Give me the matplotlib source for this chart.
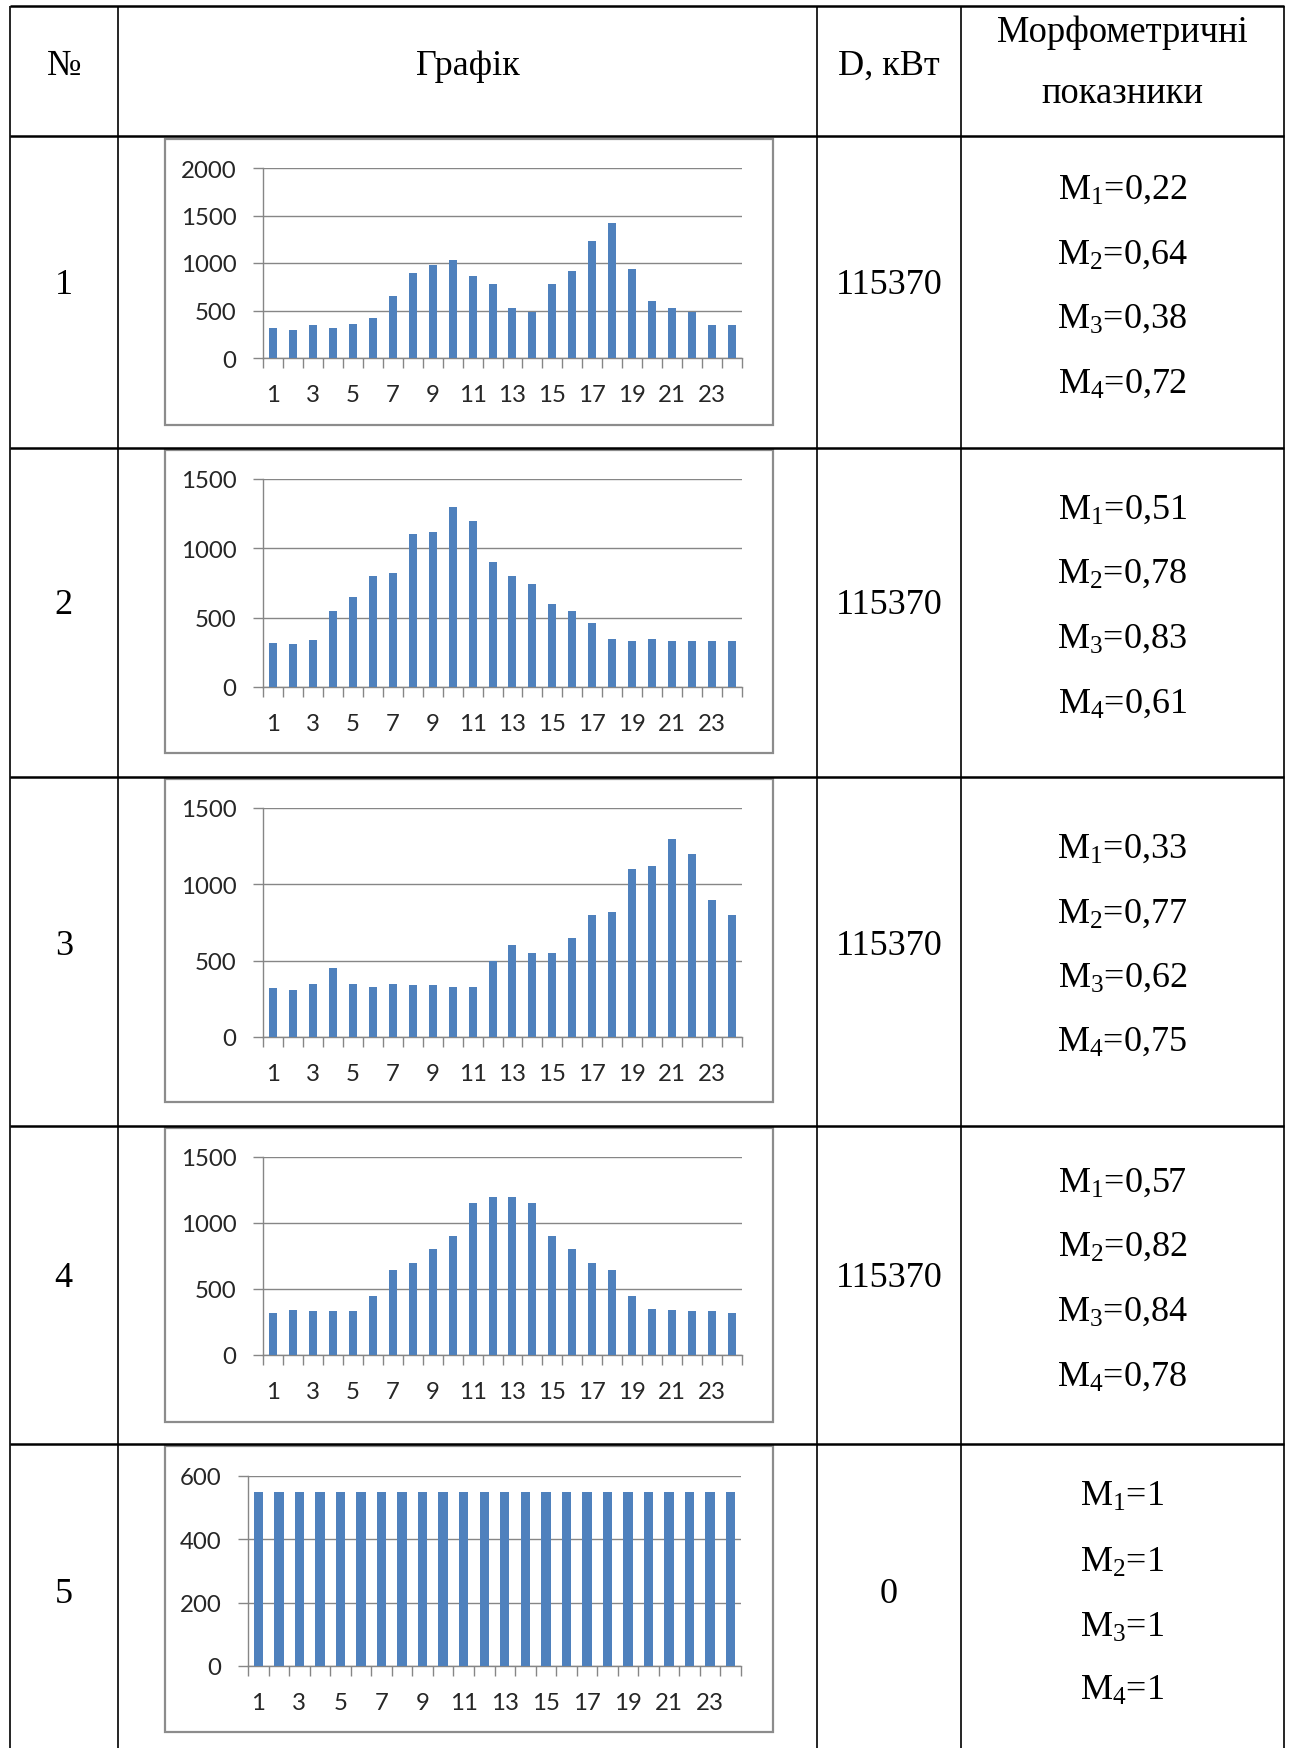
import numpy as np
import matplotlib.pyplot as plt
from matplotlib.patches import Rectangle

plt.rcParams['mathtext.fontset'] = 'custom'
plt.rcParams['mathtext.rm'] = 'Liberation Serif'
plt.rcParams['mathtext.it'] = 'Liberation Serif:italic'

W, H = 1291, 1749
SERIF = ['Liberation Serif', 'DejaVu Serif']

# data
hours = list(range(1, 25))
load_1 = [315, 300, 345, 315, 360, 420, 650, 900, 980, 1030, 860, 780,
          530, 480, 780, 920, 1230, 1420, 940, 600, 530, 480, 345, 345]
load_2 = [320, 310, 340, 550, 650, 800, 820, 1100, 1120, 1300, 1200, 900,
          800, 745, 600, 550, 460, 345, 330, 345, 335, 330, 330, 330]
load_3 = [320, 310, 345, 450, 345, 330, 345, 340, 340, 330, 330, 500,
          600, 550, 550, 650, 800, 820, 1100, 1120, 1300, 1200, 900, 800]
load_4 = [320, 340, 330, 330, 330, 450, 645, 700, 800, 900, 1150, 1200,
          1200, 1150, 900, 800, 700, 645, 450, 350, 340, 330, 330, 320]
load_5 = [550] * 24
loads = [load_1, load_2, load_3, load_4, load_5]
y_max = [2000, 1500, 1500, 1500, 600]
y_step = [500, 500, 500, 500, 200]

row_labels = ['1', '2', '3', '4', '5']
d_values = ['115370', '115370', '115370', '115370', '0']
m_values = [['0,22', '0,64', '0,38', '0,72'],
            ['0,51', '0,78', '0,83', '0,61'],
            ['0,33', '0,77', '0,62', '0,75'],
            ['0,57', '0,82', '0,84', '0,78'],
            ['1', '1', '1', '1']]

# layout in pixels
col_x = [9.5, 118, 817, 961, 1284]
row_y = [7, 137, 449, 778, 1127, 1445]
plot_boxes = [(263, 742, 169, 359), (263, 742, 480, 688), (263, 742, 809, 1038),
              (263, 742, 1158, 1356), (248, 741, 1477, 1667)]
frames = [(140, 426), (451, 754), (780, 1103), (1129, 1423), (1447, 1733)]
num_y = [282.5, 602.5, 943, 1275.5, 1591.5]
m_y = [[187, 251.5, 316, 380.5], [506.5, 571, 636, 700.5], [846, 910.5, 974.5, 1039],
       [1179.5, 1244, 1309, 1373.5], [1494, 1559.5, 1624.5, 1688]]

fig = plt.figure(figsize=(W / 100, H / 100), dpi=100)
bg = fig.add_axes([0, 0, 1, 1])
bg.set_xlim(0, W)
bg.set_ylim(H, 0)
bg.axis('off')

# table grid
for y in row_y:
    bg.plot([col_x[0], col_x[-1]], [y, y], color='black', lw=1.8, solid_capstyle='butt')
for x in col_x:
    bg.plot([x, x], [row_y[0], H], color='black', lw=1.2, solid_capstyle='butt')

# header
hdr_base = 75
bg.text((col_x[0] + col_x[1]) / 2, hdr_base, '№', ha='center', va='baseline', fontsize=26, family=SERIF)
bg.text((col_x[1] + col_x[2]) / 2, hdr_base, 'Графік', ha='center', va='baseline', fontsize=26, family=SERIF)
bg.text((col_x[2] + col_x[3]) / 2, hdr_base, 'D, кВт', ha='center', va='baseline', fontsize=26, family=SERIF)
bg.text((col_x[3] + col_x[4]) / 2, 42, 'Морфометричні', ha='center', va='baseline', fontsize=26.3, family=SERIF)
bg.text((col_x[3] + col_x[4]) / 2, 103, 'показники', ha='center', va='baseline', fontsize=26.3, family=SERIF)

for i in range(5):
    bg.text((col_x[0] + col_x[1]) / 2, num_y[i] + 12, row_labels[i], ha='center', va='baseline',
            fontsize=26, family=SERIF)
    bg.text((col_x[2] + col_x[3]) / 2, num_y[i] + 12, d_values[i], ha='center', va='baseline',
            fontsize=26, family=SERIF)
    for k in range(4):
        bg.text((col_x[3] + col_x[4]) / 2, m_y[i][k] + 12,
                'M$_{\\mathrm{%d}}$=%s' % (k + 1, m_values[i][k]),
                ha='center', va='baseline', fontsize=26, family=SERIF)

    # chart frame
    fy0, fy1 = frames[i]
    bg.add_patch(Rectangle((165, fy0), 773 - 165, fy1 - fy0, fill=False,
                           edgecolor='#8c8c8c', lw=1.6))

    # chart
    x0, x1, yt, yb = plot_boxes[i]
    ax = fig.add_axes([x0 / W, 1 - yb / H, (x1 - x0) / W, (yb - yt) / H])
    ax.set_facecolor('none')
    ax.bar(hours, loads[i], width=0.4 if i < 4 else 0.46, color='#4F81BD', zorder=3)
    ax.set_xlim(0.5, 24.5)
    ax.set_ylim(0, y_max[i])
    ax.set_yticks(np.arange(0, y_max[i] + 1, y_step[i]))
    ax.set_xticks(hours[::2])
    ax.set_xticks(np.arange(0.5, 25, 1), minor=True)
    ax.yaxis.grid(True, color='#868686', lw=1.0)
    ax.set_axisbelow(True)
    for s in ['top', 'right']:
        ax.spines[s].set_visible(False)
    for s in ['left', 'bottom']:
        ax.spines[s].set_color('#868686')
        ax.spines[s].set_linewidth(1.0)
    ax.tick_params(axis='y', direction='out', length=7, width=1.0, color='#868686',
                   pad=12, labelsize=17.3, labelcolor='#262626')
    ax.tick_params(axis='x', which='major', length=0, pad=19, labelsize=17.3, labelcolor='#262626')
    ax.tick_params(axis='x', which='minor', direction='out', length=7, width=1.0, color='#868686')
    for lab in ax.get_xticklabels() + ax.get_yticklabels():
        lab.set_family('Lato')

fig.savefig('out.png', dpi=100)
